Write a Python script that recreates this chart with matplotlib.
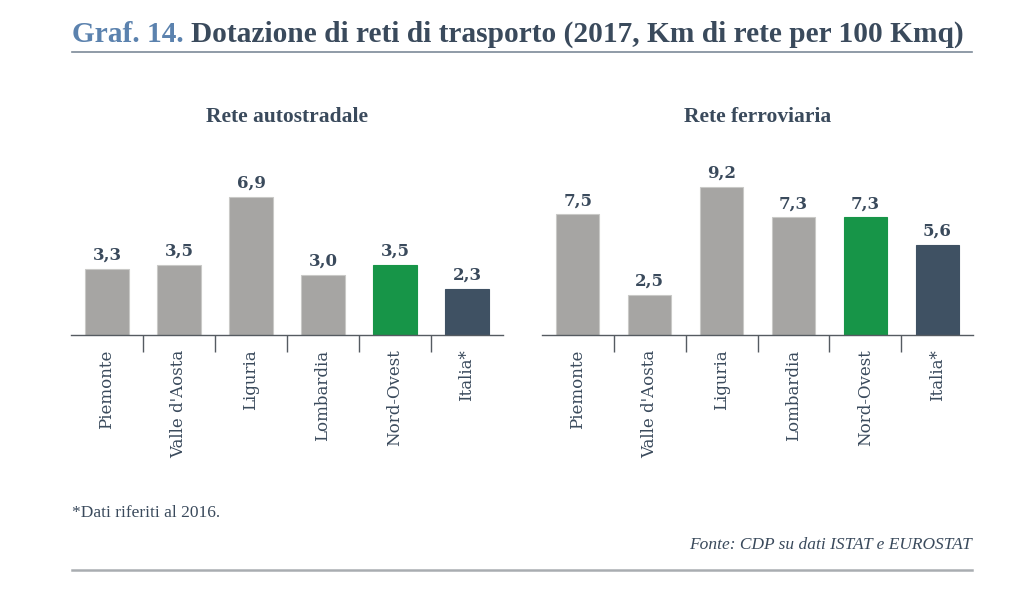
import matplotlib
matplotlib.use("Agg")
import matplotlib.pyplot as plt
import numpy as np

categories = ["Piemonte", "Valle d'Aosta", "Liguria", "Lombardia", "Nord-Ovest", "Italia*"]
autostradale = [3.3, 3.5, 6.9, 3.0, 3.5, 2.3]
ferroviaria = [7.5, 2.5, 9.2, 7.3, 7.3, 5.6]
panel_titles = ["Rete autostradale", "Rete ferroviaria"]
bar_colors = ["#a6a5a3", "#a6a5a3", "#a6a5a3", "#a6a5a3", "#179548", "#3f5163"]

TXT = "#3a4a5c"
W, H = 1024, 607
fig = plt.figure(figsize=(W / 100, H / 100), dpi=100)

def fx(px):
    return px / W

def fy(py):
    return 1 - py / H

axes_specs = [
    (71, 503, autostradale, 20.0),
    (542, 973, ferroviaria, 16.1),
]
base_y = 335
ax_h = 160
for (x0, x1, vals, ppu), ptitle in zip(axes_specs, panel_titles):
    ax = fig.add_axes([fx(x0), fy(base_y), fx(x1 - x0), ax_h / H])
    x = np.arange(len(categories))
    ax.bar(x, vals, width=0.6, color=bar_colors, edgecolor=[
        "#c9c9c7" if c == "#a6a5a3" else c for c in bar_colors], linewidth=0.8)
    ax.set_xlim(-0.5, len(categories) - 0.5)
    ax.set_ylim(0, ax_h / ppu)
    for s in ["top", "left", "right"]:
        ax.spines[s].set_visible(False)
    ax.spines["bottom"].set_color("#555b61")
    ax.spines["bottom"].set_linewidth(1.0)
    ax.set_yticks([])
    ax.set_xticks(x)
    ax.set_xticklabels(categories, rotation=90, va="top", ha="center",
                       fontsize=12, color=TXT, family="DejaVu Serif")
    ax.tick_params(axis="x", which="major", length=0, pad=10.5)
    ax.set_xticks(np.arange(0.5, len(categories) - 0.5, 1), minor=True)
    ax.tick_params(axis="x", which="minor", length=12, width=1.0, color="#555b61")
    for xi, v in zip(x, vals):
        ax.annotate(f"{v:.1f}".replace(".", ","), (xi, v), xytext=(0, 6.5),
                    textcoords="offset points", ha="center", va="baseline",
                    fontsize=12, fontweight="bold", color=TXT, family="DejaVu Serif")
    fig.text(fx((x0 + x1) / 2), fy(117), ptitle, ha="center", va="center",
             fontsize=15.5, fontweight="bold", color=TXT, family="Liberation Serif")

t1 = fig.text(fx(72), fy(42), "Graf. 14.", ha="left", va="baseline",
              fontsize=21.2, fontweight="bold", color="#5b82ae", family="Liberation Serif")
fig.canvas.draw()
bb = t1.get_window_extent()
fig.text((bb.x1 + 7) / W, fy(42), "Dotazione di reti di trasporto (2017, Km di rete per 100 Kmq)",
         ha="left", va="baseline", fontsize=21.2, fontweight="bold", color=TXT,
         family="Liberation Serif")

fig.add_artist(plt.Line2D([fx(72), fx(972)], [fy(52), fy(52)], color="#7d8a98", linewidth=1.2))
fig.add_artist(plt.Line2D([fx(72), fx(972)], [fy(570), fy(570)], color="#a9adb1", linewidth=1.8))

fig.text(fx(72), fy(513), "*Dati riferiti al 2016.", ha="left", va="center",
         fontsize=12.5, color=TXT, family="Liberation Serif")
fig.text(fx(972), fy(545), "Fonte: CDP su dati ISTAT e EUROSTAT", ha="right", va="center",
         fontsize=12.5, style="italic", color=TXT, family="Liberation Serif")

fig.savefig("out.png", dpi=100)
